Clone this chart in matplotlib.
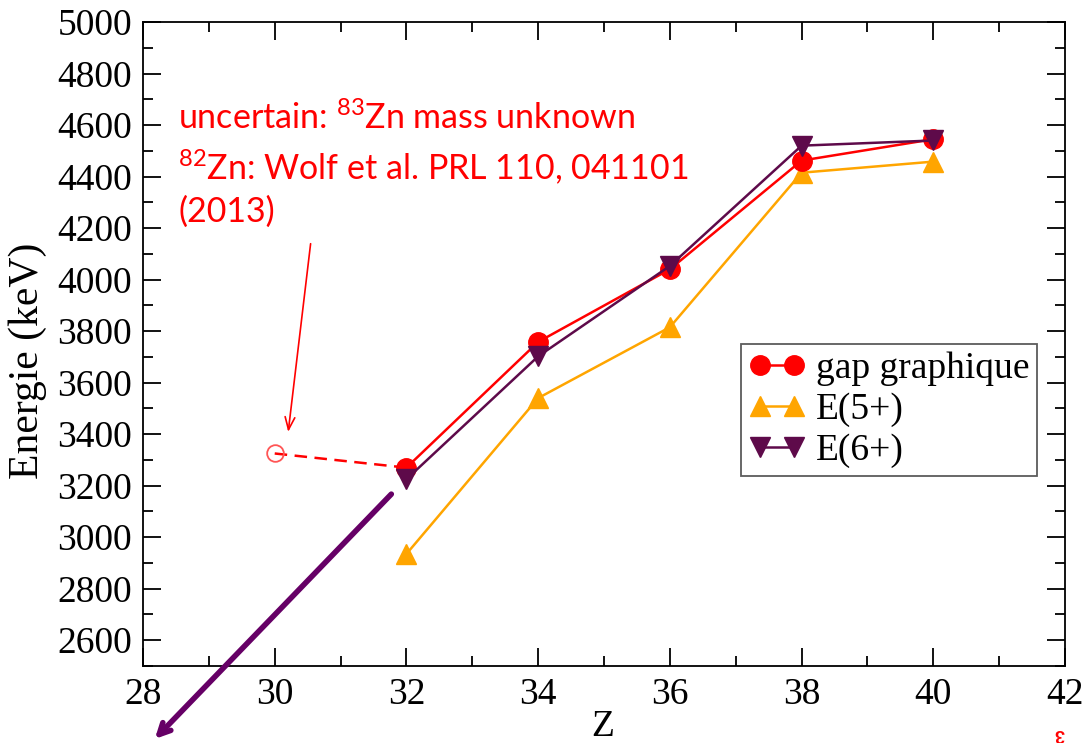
import matplotlib
matplotlib.use("Agg")
import matplotlib.pyplot as plt
from matplotlib.ticker import MultipleLocator

# Data
Z = [32, 34, 36, 38, 40]
gap = [3270, 3758, 4040, 4462, 4545]
e5 = [2935, 3540, 3815, 4415, 4458]
e6 = [3225, 3702, 4053, 4520, 4540]
z_unc = [30, 32]
gap_unc = [3325, 3270]

xticks = [28, 30, 32, 34, 36, 38, 40, 42]
yticks = list(range(2600, 5001, 200))

RED = "#ff0000"
ORANGE = "#ffa500"
PURPLE = "#5e0a4a"

plt.rcParams["mathtext.fontset"] = "custom"
plt.rcParams["mathtext.rm"] = "Lato"
plt.rcParams["mathtext.it"] = "Lato"

fig = plt.figure(figsize=(10.86, 7.43), dpi=100)
ax = fig.add_axes([143/1086, 1-666/743, (1065-143)/1086, (666-22)/743])

serif = "Liberation Serif"

ax.plot(z_unc, gap_unc, color=RED, ls=(0, (5, 3)), lw=1.8, zorder=2)
ax.plot(z_unc[:1], gap_unc[:1], marker="o", mfc="none", mec="#ff5555", ms=12, mew=1.3, ls="none", zorder=3)

ax.plot(Z, e5, color=ORANGE, lw=1.8, marker="^", ms=14, label="E(5+)", zorder=3)
ax.plot(Z, gap, color=RED, lw=1.8, marker="o", ms=14, label="gap graphique", zorder=4)
ax.plot(Z, e6, color=PURPLE, lw=1.8, marker="v", ms=14, label="E(6+)", zorder=5)

ax.set_xlim(28, 42)
ax.set_ylim(2500, 5000)
ax.set_xticks(xticks)
ax.set_yticks(yticks)
ax.xaxis.set_minor_locator(MultipleLocator(1))
ax.yaxis.set_minor_locator(MultipleLocator(100))
ax.tick_params(which="both", direction="in", top=True, right=True, width=1.3)
ax.tick_params(which="major", length=13, labelsize=27, pad=8)
ax.tick_params(which="minor", length=7)
for lab in ax.get_xticklabels() + ax.get_yticklabels():
    lab.set_fontfamily(serif)
for s in ax.spines.values():
    s.set_linewidth(1.3)

ax.set_xlabel("Z", fontsize=27, family=serif)
ax.xaxis.set_label_coords((603-143)/922, -(710-666)/644)
ax.set_ylabel("Energie (keV)", fontsize=30, family=serif)
ax.yaxis.set_label_coords(-(143-47)/922, (666-361)/644)

handles, labels = ax.get_legend_handles_labels()
order = [1, 0, 2]
leg = ax.legend([handles[i] for i in order], [labels[i] for i in order],
                loc="upper left", bbox_to_anchor=((741-143)/922, 1-(344-22)/644),
                prop={"family": serif, "size": 27}, frameon=True, fancybox=False,
                edgecolor="#333333", handlelength=1.5, handletextpad=0.3,
                borderpad=0.2, labelspacing=0.17, borderaxespad=0, numpoints=2)
leg.get_frame().set_linewidth(1.3)

# annotation text
txt = ("uncertain: $^{83}$Zn mass unknown\n"
       "$^{82}$Zn: Wolf et al. PRL 110, 041101\n(2013)")
ax.text(178/1086, 1-101/743, txt, transform=fig.transFigure, color=RED,
        fontsize=24.5, family="Lato", va="top", ha="left", linespacing=1.38)

# red arrow
ax.annotate("", xy=(30.2, 3398), xytext=(30.55, 4150),
            arrowprops=dict(arrowstyle="->,head_length=0.9,head_width=0.35",
                            color=RED, lw=1.2))
# purple arrow
ax.annotate("", xy=(28.15, 2209), xytext=(31.8, 3175), annotation_clip=False,
            arrowprops=dict(arrowstyle="->,head_length=0.8,head_width=0.4",
                            color="#660066", lw=4))

fig.text(1060/1086, 1/743, "3", color=RED, fontsize=13, weight="bold",
         va="bottom", ha="center", family="Liberation Sans", rotation=180)

fig.savefig("out.png", dpi=100)
